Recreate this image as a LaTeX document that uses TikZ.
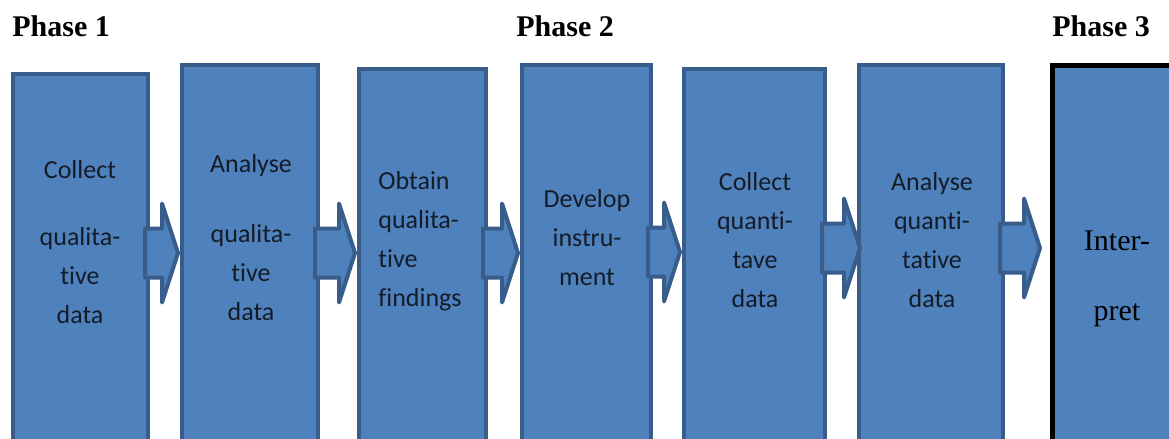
\documentclass[tikz,border=0pt]{standalone}
\usepackage{fontspec}
\setmainfont{Liberation Serif}
\newfontfamily\calib[Ligatures={NoCommon}]{Carlito}
\usetikzlibrary{calc}
\definecolor{boxfill}{HTML}{4F81BD}
\definecolor{boxline}{HTML}{385D8A}
\definecolor{txt}{HTML}{141C28}
\tikzset{
 stepbox/.style={draw=boxline, fill=boxfill, line width=2pt, inner sep=0pt, anchor=north west},
 finalbox/.style={draw=black, fill=boxfill, line width=2.5pt, inner sep=0pt, anchor=north west},
 arr/.style={draw=boxline, fill=boxfill, line width=2pt, line join=round},
 steptext/.style={font=\calib\fontsize{13}{19.5}\selectfont, text=txt, inner sep=0pt, align=center, anchor=base},
 steptextl/.style={steptext, align=left, anchor=base west},
 phase/.style={font=\fontsize{15}{18}\selectfont\bfseries, inner sep=0pt, anchor=base west},
 interp/.style={font=\fontsize{15}{18}\selectfont, inner sep=0pt, align=center, anchor=base},
}
% name, left, right, top, style
\newcommand\mkbox[5]{\node[#5, minimum width={(#3-#2-4)*0.5pt}, minimum height={(470-#4)*0.5pt}] (#1) at (#2,#4) {};}
% name, from, to, y, gap before target
\newcommand\mkarrow[5]{%
 \path (0,#4) coordinate (#1y);
 \draw[arr] ($(#2.east|-#1y)+(-5,-24.5)$) -- ($(#3.west|-#1y)+(-16-#5,-24.5)$)
   -- ($(#3.west|-#1y)+(-16-#5,-49.5)$) -- ($(#3.west|-#1y)+(-#5,0)$)
   -- ($(#3.west|-#1y)+(-16-#5,49.5)$) -- ($(#3.west|-#1y)+(-16-#5,24.5)$)
   -- ($(#2.east|-#1y)+(-5,24.5)$) -- cycle;}
\begin{document}
\begin{tikzpicture}[x=0.5pt,y=-0.5pt]
\useasboundingbox (0,0) rectangle (1169,439);
\clip (0,0) rectangle (1169,439);
% boxes
\mkbox{b1}{11}{150}{72}{stepbox}
\mkbox{b2}{180}{320}{63}{stepbox}
\mkbox{b3}{357}{488}{67}{stepbox}
\mkbox{b4}{520}{653}{63}{stepbox}
\mkbox{b5}{682}{827}{67}{stepbox}
\mkbox{b6}{857}{1005}{63}{stepbox}
\node[finalbox, minimum width={(200-5)*0.5pt}, minimum height={(470-63)*0.5pt}] (b7) at (1050,63) {};
% arrows
\mkarrow{a1}{b1}{b2}{253}{2}
\mkarrow{a2}{b2}{b3}{253}{2}
\mkarrow{a3}{b3}{b4}{253}{2}
\mkarrow{a4}{b4}{b5}{252}{2}
\mkarrow{a5}{b5}{b6}{248}{-3}
\mkarrow{a6}{b6}{b7}{248}{10}
% texts (anchor = baseline of the last line)
\node[steptext] (t1) at (80,323) {Collect\\[14pt]qualita-\\tive\\data};
\node[steptext] (t2) at (251,320) {Analyse\\[15.5pt]qualita-\\tive\\data};
\node[steptextl] (t3) at (378,306) {Obtain\\qualita-\\tive\\findings};
\node[steptext] (t4) at (587,285) {Develop\\instru-\\ment};
\node[steptext] (t5) at (755,307) {Collect\\quanti-\\tave\\data};
\node[steptext] (t6) at (932,307) {Analyse\\quanti-\\tative\\data};
\node[interp] (t7) at (1117,320) {Inter-\\[17pt]pret};
% phase labels
\node[phase] (p1) at (12,37) {Phase 1};
\node[phase] (p2) at (516,37) {Phase 2};
\node[phase] (p3) at (1052,37) {Phase 3};
\end{tikzpicture}
\end{document}
